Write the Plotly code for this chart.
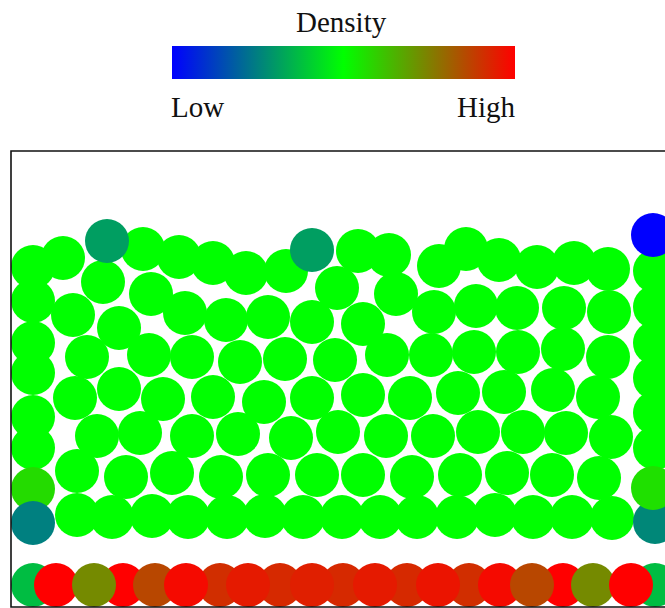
import plotly.graph_objects as go

# Particle positions in box units (box is 666 x 456, particle diameter 44)
# and the local packing density of each particle (0 = low, 1 = high).

# Bulk packing: all at mid density
bulk_x = [22, 52, 132, 168, 202, 235, 275, 347, 378, 428, 455, 488, 526, 563, 597, 644,
          22, 92, 62, 140, 108, 174, 215, 257, 301, 326, 385, 352, 423, 465, 506, 553, 598, 644,
          22, 22, 76, 138, 181, 229, 274, 324, 376, 420, 463, 507, 552, 597, 644,
          64, 108, 152, 202, 253, 301, 352, 399, 447, 493, 542, 587, 644, 22, 22, 644, 644,
          86, 129, 181, 227, 280, 327, 375, 422, 467, 512, 555, 600,
          66, 115, 161, 210, 257, 306, 352, 401, 449, 496, 541, 588,
          66, 101, 141, 177, 216, 254, 292, 331, 369, 406, 446, 484, 522, 561, 601]
bulk_y = [340, 349, 358, 350, 344, 334, 336, 356, 352, 341, 358, 347, 340, 344, 338, 336,
          306, 325, 292, 313, 279, 294, 287, 290, 285, 319, 313, 283, 295, 301, 299, 299, 295, 300,
          264, 234, 250, 252, 250, 245, 248, 247, 252, 252, 255, 255, 258, 250, 264,
          209, 218, 208, 210, 205, 209, 212, 209, 214, 215, 217, 210, 229, 190, 159, 194, 159,
          171, 174, 171, 173, 169, 175, 171, 171, 175, 175, 174, 170,
          136, 130, 134, 130, 132, 132, 132, 130, 132, 134, 132, 129,
          92, 90, 91, 90, 90, 91, 90, 90, 90, 90, 90, 92, 90, 90, 89]
bulk_density = [0.5] * len(bulk_x)

# Floor layer, rear particles
floor_back_x = [22, 112, 209, 269, 332, 396, 458, 552, 644]
floor_back_y = [22] * len(floor_back_x)
floor_back_density = [0.37, 1.0, 0.91, 0.92, 0.92, 0.92, 0.91, 1.0, 0.37]

# Floor layer, front particles
floor_front_x = [45, 83, 144, 175, 237, 301, 364, 427, 489, 521, 582, 620]
floor_front_y = [22] * len(floor_front_x)
floor_front_density = [1.0, 0.73, 0.86, 0.98, 0.95, 0.94, 0.95, 0.96, 0.98, 0.86, 0.73, 1.0]

# Particles against the side walls and on the free surface
edge_x = [22, 22, 644, 642, 96, 301, 642]
edge_y = [118, 84, 85, 119, 366, 357, 372]
edge_density = [0.57, 0.25, 0.265, 0.56, 0.31, 0.31, 0.0]

BOX_W, BOX_H = 666, 456

colorscale = [[0.0, "rgb(0,0,255)"], [0.5, "rgb(0,255,0)"], [1.0, "rgb(255,0,0)"]]

fig = go.Figure()
for xs, ys, ds in [(bulk_x, bulk_y, bulk_density),
                   (floor_back_x, floor_back_y, floor_back_density),
                   (floor_front_x, floor_front_y, floor_front_density),
                   (edge_x, edge_y, edge_density)]:
    fig.add_trace(go.Scatter(
        x=xs, y=ys, mode="markers", hoverinfo="skip", showlegend=False,
        marker=dict(size=44, color=ds, coloraxis="coloraxis", line=dict(width=0), opacity=1),
    ))

W, H = 665, 608
fig.update_layout(
    width=W, height=H,
    margin=dict(l=0, r=0, t=0, b=0),
    paper_bgcolor="white", plot_bgcolor="white",
    xaxis=dict(range=[-11, 654], visible=False, fixedrange=True),
    yaxis=dict(range=[-1, 607], visible=False, fixedrange=True),
    coloraxis=dict(
        cmin=0, cmax=1, colorscale=colorscale,
        colorbar=dict(
            orientation="h", thicknessmode="pixels", thickness=33,
            lenmode="pixels", len=343,
            x=343.5 / W, xanchor="center", y=1 - 46 / H, yanchor="top",
            xpad=0, ypad=0, outlinewidth=0, ticks="", showticklabels=False,
        ),
    ),
    shapes=[dict(type="rect", xref="x", yref="y", x0=0, y0=0, x1=BOX_W, y1=BOX_H,
                 line=dict(color="#111111", width=1.6), layer="above")],
)

font = dict(family="Liberation Serif", size=29, color="#111")
fig.add_annotation(text="Density", xref="paper", yref="paper", x=342 / W, y=1 - 22 / H,
                   xanchor="center", yanchor="middle", showarrow=False, font=font)
fig.add_annotation(text="Low", xref="paper", yref="paper", x=169 / W, y=1 - 107 / H,
                   xanchor="left", yanchor="middle", showarrow=False, font=font)
fig.add_annotation(text="High", xref="paper", yref="paper", x=518 / W, y=1 - 107 / H,
                   xanchor="right", yanchor="middle", showarrow=False, font=font)

fig.write_html("out.html")
